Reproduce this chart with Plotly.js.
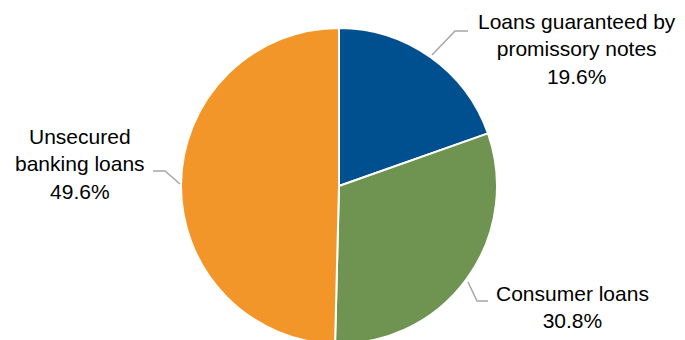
<!DOCTYPE html>
<html>
<head>
<meta charset="utf-8">
<script src="https://cdn.plot.ly/plotly-3.0.1.min.js"></script>
<style>
html,body{margin:0;padding:0;overflow:hidden;background:#fff;}
#chart{width:685px;height:350px;}
</style>
</head>
<body>
<div id="chart"></div>
<script>
const categories = ["Loans guaranteed by promissory notes", "Consumer loans", "Unsecured banking loans"];
const labelLines = ["Loans guaranteed by<br>promissory notes", "Consumer loans", "Unsecured<br>banking loans"];
const values = [19.6, 30.8, 49.6];
const colors = ["#00508f", "#6f9452", "#f3962a"];

const W = 685, H = 350;
const px = x => x / W;
const py = y => 1 - y / H;

// label placement (pixels) and leader lines (pixels)
const labelPos = [[577, 49], [572, 307], [80, 164]];
const leaders = [
  [[432, 55], [455, 31], [468, 31]],
  [[468, 282], [477, 301], [488, 301]],
  [[180, 184], [165, 171], [153, 171]]
];

const cx = 339, cy = 186, r = 158;

const trace = {
  type: "pie",
  labels: categories,
  values: values,
  sort: false,
  direction: "clockwise",
  rotation: 0,
  textinfo: "none",
  hoverinfo: "label+percent",
  marker: {colors: colors, line: {color: "#ffffff", width: 2}},
  domain: {x: [px(cx - r), px(cx + r)], y: [py(cy + r), py(cy - r)]},
  showlegend: false
};

const annotations = categories.map((c, i) => ({
  xref: "paper", yref: "paper",
  x: px(labelPos[i][0]), y: py(labelPos[i][1]),
  xanchor: "center", yanchor: "middle",
  text: labelLines[i] + "<br>" + values[i].toFixed(1) + "%",
  showarrow: false,
  align: "center",
  font: {family: "Liberation Sans, Arial, sans-serif", size: 21, color: "#000000"}
}));

const shapes = leaders.map(pts => ({
  type: "path",
  xref: "paper", yref: "paper",
  path: pts.map((p, j) => (j ? "L" : "M") + px(p[0]) + "," + py(p[1])).join(" "),
  line: {color: "#a6a6a6", width: 1.5}
}));

const layout = {
  width: W, height: H,
  margin: {l: 0, r: 0, t: 0, b: 0},
  paper_bgcolor: "#ffffff",
  annotations: annotations,
  shapes: shapes
};

Plotly.newPlot("chart", [trace], layout, {displayModeBar: false, staticPlot: true});
</script>
</body>
</html>
